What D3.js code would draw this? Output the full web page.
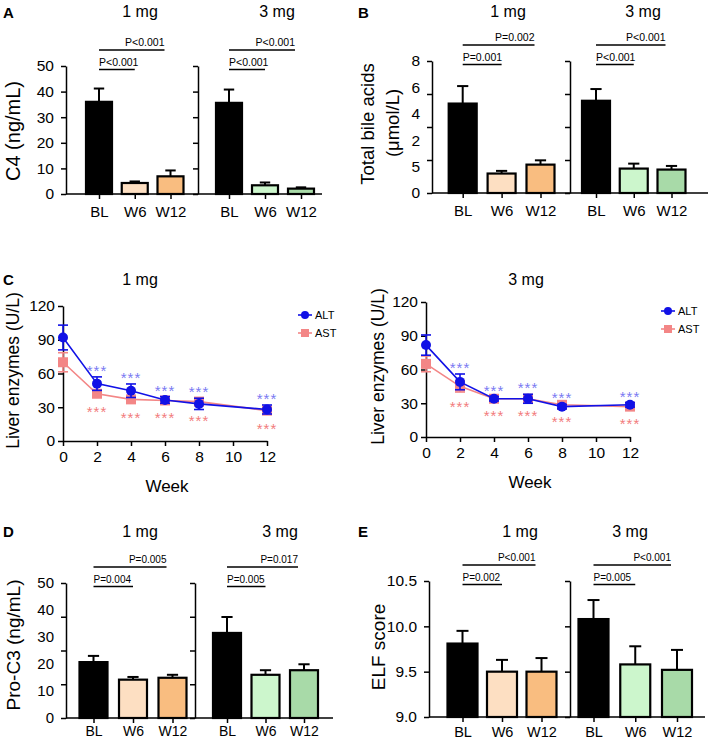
<!DOCTYPE html>
<html><head><meta charset="utf-8">
<script src="https://cdn.jsdelivr.net/npm/d3@7"></script>
<style>body{margin:0;background:#fff} svg{display:block}</style>
</head><body><svg id="c" width="709" height="741"></svg>
<script>
const FONT = '"Liberation Sans", Arial, Helvetica, sans-serif';
const groups = ["BL", "W6", "W12"];
const doses = ["1 mg", "3 mg"];
const weeks = [0, 2, 4, 6, 8, 12];
const weekTicks = [0, 2, 4, 6, 8, 10, 12];
const enzymeTicks = [0, 30, 60, 90, 120];

// Panel A: C4 (ng/mL)
const c4Mean1mg = [36.0, 4.3, 6.9];
const c4Err1mg = [5.2, 0.6, 2.3];
const c4Mean3mg = [35.6, 3.4, 2.1];
const c4Err3mg = [5.2, 1.1, 0.5];
const c4TickLabels = ["0", "10", "20", "30", "40", "50"];
const c4P1mg = ["P<0.001", "P<0.001"];
const c4P3mg = ["P<0.001", "P<0.001"];

// Panel B: Total bile acids
const tbaMean1mg = [5.42, 1.18, 1.72];
const tbaErr1mg = [1.06, 0.16, 0.26];
const tbaMean3mg = [5.59, 1.48, 1.42];
const tbaErr3mg = [0.71, 0.30, 0.22];
const tbaTickLabels = ["0", "5", "2", "4", "6", "8"];
const tbaP1mg = ["P=0.001", "P=0.002"];
const tbaP3mg = ["P<0.001", "P<0.001"];

// Panel C: liver enzymes
const alt1mg = [92, 51, 44.7, 36.5, 33, 28];
const alt1mgErr = [11, 6, 6, 3, 5, 4];
const ast1mg = [70, 42, 37, 36, 35, 27];
const ast1mgErr = [8.5, 3, 3, 2.5, 3.5, 3];
const alt3mg = [81.7, 49, 34, 34, 27, 28.6];
const alt3mgErr = [9, 7, 2, 4, 2, 2];
const ast3mg = [65, 45, 34, 34, 28.6, 27];
const ast3mgErr = [7, 5, 2, 2, 2, 2];
const starWeeks = [2, 4, 6, 8, 12];

// Panel D: Pro-C3
const proc3Mean1mg = [20.7, 14.2, 14.9];
const proc3Err1mg = [2.3, 1.0, 1.1];
const proc3Mean3mg = [31.5, 16.0, 17.7];
const proc3Err3mg = [5.9, 1.7, 2.2];
const proc3TickLabels = ["0", "10", "20", "30", "40", "50"];
const proc3P1mg = ["P=0.004", "P=0.005"];
const proc3P3mg = ["P=0.005", "P=0.017"];

// Panel E: ELF score
const elfMean1mg = [9.81, 9.50, 9.50];
const elfErr1mg = [0.14, 0.13, 0.15];
const elfMean3mg = [10.08, 9.58, 9.52];
const elfErr3mg = [0.21, 0.20, 0.22];
const elfTickLabels = ["9.0", "9.5", "10.0", "10.5"];
const elfP1mg = ["P=0.002", "P<0.001"];
const elfP3mg = ["P=0.005", "P<0.001"];

const colors1mg = ["#000000", "#FDDFC2", "#F9BD80"];
const colors3mg = ["#000000", "#CCF6CC", "#A8DAA8"];
const ALT_C = "#1111E6", AST_C = "#F38686", ALT_STAR = "#7A7AF2", AST_STAR = "#F27C7C";

const svg = d3.select("#c");

function styleAxis(sel, fs) {
  sel.attr("font-family", FONT).attr("font-size", fs);
  sel.selectAll("line,path").attr("stroke", "#000").attr("stroke-width", 1.5);
  sel.selectAll("text").attr("fill", "#000");
}

function txt(x, y, s, o = {}) {
  return svg.append("text").attr("x", x).attr("y", y).text(s)
    .attr("font-family", FONT).attr("font-size", o.fs || 14)
    .attr("font-weight", o.bold ? "bold" : "normal")
    .attr("letter-spacing", o.ls || 0)
    .attr("text-anchor", o.anchor || "start").attr("fill", o.fill || "#000");
}

function vlabel(x, y, s, fs) {
  svg.append("text").attr("transform", `translate(${x},${y}) rotate(-90)`)
    .attr("text-anchor", "middle").attr("dy", "0.35em")
    .attr("font-family", FONT).attr("font-size", fs).text(s);
}

function barPanel(cfg) {
  const y = d3.scaleLinear().domain(cfg.domain).range([cfg.yBot, cfg.yTop]);
  const d0 = cfg.domain[0], d1 = cfg.domain[1];
  const markVals = d3.range(cfg.marks).map(i => d0 + i * (d1 - d0) / (cfg.marks - 1));
  const labelVals = cfg.labels.map((_, i) => d0 + i * (d1 - d0) / (cfg.labels.length - 1));
  const subs = [
    {ax: cfg.axis1, end: cfg.axis2, range: cfg.c1, mean: cfg.mean[0], err: cfg.err[0], colors: colors1mg, p: cfg.p[0], tx: cfg.titleX[0], title: doses[0]},
    {ax: cfg.axis2, end: cfg.end, range: cfg.c2, mean: cfg.mean[1], err: cfg.err[1], colors: colors3mg, p: cfg.p[1], tx: cfg.titleX[1], title: doses[1]}
  ];
  subs.forEach((s, si) => {
    svg.append("g").attr("transform", `translate(${s.ax},0)`)
      .call(d3.axisLeft(y).tickValues(markVals).tickSize(5).tickSizeOuter(0).tickFormat(""))
      .call(g => styleAxis(g, cfg.yfs));
    if (si === 0) {
      svg.append("g").attr("transform", `translate(${s.ax},0)`)
        .call(d3.axisLeft(y).tickValues(labelVals).tickSize(0).tickPadding(cfg.tickPad).tickFormat((d, i) => cfg.labels[i]))
        .call(g => { g.select(".domain").remove(); styleAxis(g, cfg.yfs); });
    }
    svg.append("line").attr("x1", s.ax).attr("x2", s.end).attr("y1", cfg.yBot).attr("y2", cfg.yBot)
      .attr("stroke", "#000").attr("stroke-width", 1.5);
    const x = d3.scalePoint().domain(groups).range(s.range);
    svg.append("g").attr("transform", `translate(0,${cfg.yBot})`)
      .call(d3.axisBottom(x).tickSize(5).tickPadding(cfg.xPad))
      .call(g => { g.select(".domain").remove(); styleAxis(g, cfg.xfs); });
    const bw = cfg.bw;
    groups.forEach((k, i) => {
      const cx = x(k), top = y(s.mean[i]), et = y(s.mean[i] + s.err[i]);
      svg.append("line").attr("x1", cx).attr("x2", cx).attr("y1", top).attr("y2", et)
        .attr("stroke", "#000").attr("stroke-width", 2);
      svg.append("line").attr("x1", cx - bw * 0.2).attr("x2", cx + bw * 0.2).attr("y1", et).attr("y2", et)
        .attr("stroke", "#000").attr("stroke-width", 2);
      svg.append("rect").attr("x", cx - bw / 2).attr("y", top).attr("width", bw).attr("height", cfg.yBot - top)
        .attr("fill", s.colors[i]).attr("stroke", "#000").attr("stroke-width", 2.2);
    });
    const bx = x("BL");
    const lowY = cfg.yTop + 3.5, upY = cfg.yTop - 16;
    svg.append("line").attr("x1", bx).attr("x2", x("W6")).attr("y1", lowY).attr("y2", lowY).attr("stroke", "#000").attr("stroke-width", 1.5);
    svg.append("line").attr("x1", bx).attr("x2", x("W12") - 6).attr("y1", upY).attr("y2", upY).attr("stroke", "#000").attr("stroke-width", 1.5);
    txt(bx, lowY - 4, s.p[0], {fs: cfg.pfs});
    txt(x("W12") - 6, upY - 4, s.p[1], {fs: cfg.pfs, anchor: "end"});
    txt(s.tx, cfg.titleY, s.title, {fs: cfg.tfs, anchor: "middle"});
  });
}

barPanel({axis1: 66, axis2: 198, end: 322, yTop: 66, yBot: 194, domain: [0, 50], marks: 6, labels: c4TickLabels,
  c1: [99, 170.5], c2: [229, 301], bw: 26, mean: [c4Mean1mg, c4Mean3mg], err: [c4Err1mg, c4Err3mg],
  p: [c4P1mg, c4P3mg], titleX: [140, 277], titleY: 17, yfs: 15.5, xfs: 15, tickPad: 12, xPad: 7, pfs: 10.5, tfs: 16});
barPanel({axis1: 432, axis2: 570, end: 708, yTop: 61, yBot: 193, domain: [0, 8], marks: 5, labels: tbaTickLabels,
  c1: [462.7, 540.5], c2: [596, 671.5], bw: 28, mean: [tbaMean1mg, tbaMean3mg], err: [tbaErr1mg, tbaErr3mg],
  p: [tbaP1mg, tbaP3mg], titleX: [508, 643], titleY: 17, yfs: 15.5, xfs: 15, tickPad: 12, xPad: 7, pfs: 10.5, tfs: 16});
barPanel({axis1: 66, axis2: 195, end: 333, yTop: 583, yBot: 718, domain: [0, 50], marks: 5, labels: proc3TickLabels,
  c1: [93.5, 172.5], c2: [227, 304], bw: 28, mean: [proc3Mean1mg, proc3Mean3mg], err: [proc3Err1mg, proc3Err3mg],
  p: [proc3P1mg, proc3P3mg], titleX: [140, 280], titleY: 537, yfs: 15, xfs: 14, tickPad: 12, xPad: 3.5, pfs: 10, tfs: 16});
barPanel({axis1: 429, axis2: 570, end: 705, yTop: 581, yBot: 717, domain: [9, 10.5], marks: 4, labels: elfTickLabels,
  c1: [462.5, 541.5], c2: [593.5, 677], bw: 30, mean: [elfMean1mg, elfMean3mg], err: [elfErr1mg, elfErr3mg],
  p: [elfP1mg, elfP3mg], titleX: [520, 630], titleY: 537, yfs: 15.5, xfs: 14.5, tickPad: 12, xPad: 5, pfs: 10, tfs: 16});

function linePanel(cfg) {
  const x = d3.scaleLinear().domain([0, 12]).range([cfg.ax, cfg.ax + 204]);
  const y = d3.scaleLinear().domain([0, 120]).range([cfg.yBot, cfg.yTop]);
  svg.append("g").attr("transform", `translate(${cfg.ax},0)`)
    .call(d3.axisLeft(y).tickValues(enzymeTicks).tickSize(5).tickSizeOuter(0).tickPadding(3))
    .call(g => styleAxis(g, 15.5));
  svg.append("g").attr("transform", `translate(0,${cfg.yBot})`)
    .call(d3.axisBottom(x).tickValues(weekTicks).tickSize(5).tickSizeOuter(0).tickPadding(5))
    .call(g => styleAxis(g, 15.5));
  const series = [
    {v: cfg.ast, e: cfg.astErr, c: AST_C, sq: true},
    {v: cfg.alt, e: cfg.altErr, c: ALT_C, sq: false}
  ];
  series.forEach(s => {
    const line = d3.line().x((d, i) => x(weeks[i])).y(d => y(d));
    svg.append("path").datum(s.v).attr("d", line).attr("fill", "none").attr("stroke", s.c).attr("stroke-width", 1.6);
    s.v.forEach((v, i) => {
      const cx = x(weeks[i]);
      const y1 = y(v + s.e[i]), y2 = y(v - s.e[i]);
      svg.append("line").attr("x1", cx).attr("x2", cx).attr("y1", y1).attr("y2", y2).attr("stroke", s.c).attr("stroke-width", 1.6);
      [y1, y2].forEach(yy => svg.append("line").attr("x1", cx - 5).attr("x2", cx + 5).attr("y1", yy).attr("y2", yy).attr("stroke", s.c).attr("stroke-width", 1.6));
      if (s.sq) svg.append("rect").attr("x", cx - 5).attr("y", y(v) - 5).attr("width", 10).attr("height", 10).attr("fill", s.c);
      else svg.append("circle").attr("cx", cx).attr("cy", y(v)).attr("r", 5).attr("fill", s.c);
    });
  });
  weeks.forEach((w, i) => {
    if (!starWeeks.includes(w)) return;
    txt(x(w), y(cfg.alt[i] + cfg.altErr[i]) - 10 + 9, "***", {fs: 15, ls: 1, anchor: "middle", fill: ALT_STAR});
    txt(x(w), y(cfg.ast[i] - cfg.astErr[i]) + 11 + 9, "***", {fs: 15, ls: 1, anchor: "middle", fill: AST_STAR});
  });
  txt(cfg.ax + 104, cfg.yBot + 51, "Week", {fs: 17, anchor: "middle"});
  txt(cfg.titleX, cfg.titleY, cfg.title, {fs: 16, anchor: "middle"});
  vlabel(cfg.labX, (cfg.yTop + cfg.yBot) / 2 - 3, "Liver enzymes (U/L)", 17.5);
  const lg = [{n: "ALT", c: ALT_C, sq: false}, {n: "AST", c: AST_C, sq: true}];
  lg.forEach((d, i) => {
    const ly = cfg.legY + i * 18;
    svg.append("line").attr("x1", cfg.legX - 7).attr("x2", cfg.legX + 7).attr("y1", ly).attr("y2", ly).attr("stroke", d.c).attr("stroke-width", 1.6);
    if (d.sq) svg.append("rect").attr("x", cfg.legX - 4).attr("y", ly - 4).attr("width", 8).attr("height", 8).attr("fill", d.c);
    else svg.append("circle").attr("cx", cfg.legX).attr("cy", ly).attr("r", 4).attr("fill", d.c);
    txt(cfg.legX + 10, ly + 4, d.n, {fs: 11});
  });
}

linePanel({ax: 63, yTop: 306, yBot: 441, alt: alt1mg, altErr: alt1mgErr, ast: ast1mg, astErr: ast1mgErr,
  title: doses[0], titleX: 140, titleY: 285, labX: 13, legX: 305, legY: 315});
linePanel({ax: 426, yTop: 302, yBot: 437, alt: alt3mg, altErr: alt3mgErr, ast: ast3mg, astErr: ast3mgErr,
  title: doses[1], titleX: 526, titleY: 285, labX: 378, legX: 668, legY: 311});

vlabel(13, 131, "C4 (ng/mL)", 20);
vlabel(368, 124, "Total bile acids", 18.5);
vlabel(393, 123, "(\u03BCmol/L)", 18.5);
vlabel(13, 645, "Pro-C3 (ng/mL)", 19);
vlabel(378, 647, "ELF score", 19);

[["A", 3, 18], ["B", 358, 18], ["C", 3, 285], ["D", 3, 537], ["E", 358, 537]].forEach(d =>
  txt(d[1], d[2], d[0], {fs: 15, bold: true}));
</script></body></html>
